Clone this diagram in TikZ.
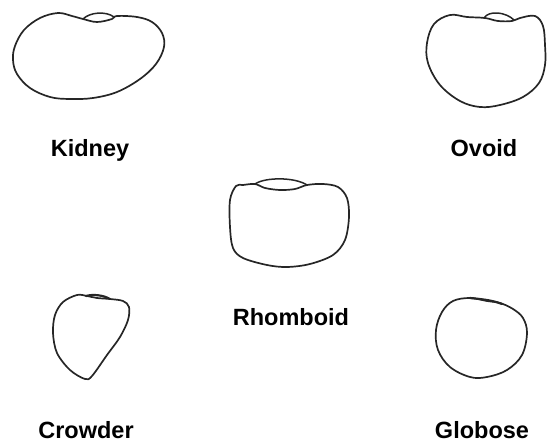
\documentclass[tikz,border=0pt]{standalone}
\usepackage{fontspec}
\setmainfont{Liberation Sans}
\begin{document}
\begin{tikzpicture}[x=1pt,y=-1pt,
  seed/.style={draw=black!85,line width=1.7pt,line join=round,line cap=round},
  hilum/.style={draw=black!85,line width=1.5pt,line cap=round},
  label/.style={font=\fontsize{23.5}{27}\selectfont\bfseries,anchor=base,inner sep=0pt}]
\useasboundingbox (0,0) rectangle (547,442);

% Kidney
\draw[seed] plot[smooth cycle,tension=0.6] coordinates {
  (58,13) (40,18) (24,30) (15,46) (13,60) (17,74) (30,88) (50,97) (70,99)
  (93,98) (117,92) (140,79) (156,64) (164,47) (162,33) (152,22) (137,17)
  (117,16) (112,19) (97,22) (83,19) (72,16)};
\draw[hilum] (83,19) .. controls (90,12) and (106,11) .. (114,17);

% Ovoid
\draw[seed] plot[smooth cycle,tension=0.6] coordinates {
  (450,15) (434,24) (427,43) (428,63) (440,85) (460,101) (480,107) (500,105)
  (523,97) (539,83) (545,65) (545,45) (543,26) (535,16) (520,18) (512,21)
  (498,21) (485,18) (467,17)};
\draw[hilum] (484,18) .. controls (489,10) and (506,12) .. (514,20);

% Rhomboid
\draw[seed] plot[smooth cycle,tension=0.55] coordinates {
  (236,186) (230,200) (230,227) (233,248) (243,258) (267,265) (287,267)
  (310,264) (333,255) (345,240) (349,217) (347,198) (338,187) (323,184)
  (307,185) (295,189) (280,190) (265,188) (255,184) (243,185)};
\draw[hilum] (255,184) .. controls (265,177) and (295,177) .. (307,185);

% Crowder
\draw[seed] plot[smooth cycle,tension=0.55] coordinates {
  (77,295) (63,302) (55,315) (53,333) (57,353) (70,370) (85,379) (92,376)
  (107,355) (120,337) (128,320) (129,307) (123,301) (110,299) (97,298) (87,296)};
\draw[hilum,line width=2.2pt] (86,296) .. controls (93,294) and (103,295) .. (110,299);

% Globose
\draw[seed] plot[smooth cycle,tension=0.6] coordinates {
  (470,298) (453,301) (442,312) (436,330) (438,350) (450,367) (470,377)
  (487,377) (507,370) (522,355) (527,333) (523,318) (513,309) (500,303) (487,301)};
\draw[hilum,line width=2.2pt] (470,298) .. controls (480,299) and (492,300) .. (502,304);

% Labels
\node[label] (ki) at (90,156) {Kidney};
\node[label] (ov) at (484,156) {Ovoid};
\node[label] (rh) at (291,325) {Rhomboid};
\node[label] (cr) at (86,438) {Crowder};
\node[label] (gl) at (482,438) {Globose};
\end{tikzpicture}
\end{document}
